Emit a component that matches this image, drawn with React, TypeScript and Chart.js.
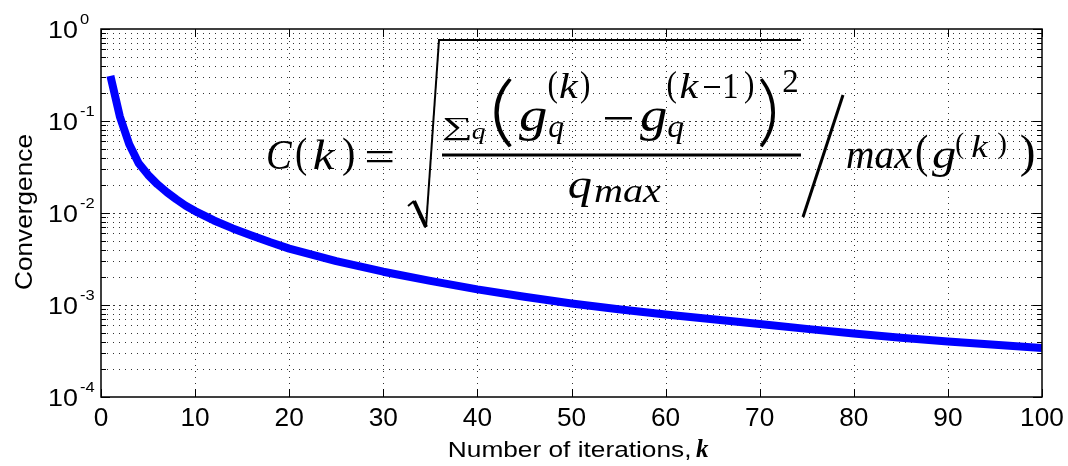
import React, { useEffect, useRef } from "react";
import { Chart, registerables } from "chart.js";

Chart.register(...registerables);

// Iteration index k and the convergence measure C(k)
const iterations = [1, 2, 3, 4, 5, 6, 7, 8, 9, 10, 12, 14, 16, 18, 20, 25, 30, 35, 40, 45, 50, 55, 60, 65, 70, 75, 80, 85, 90, 95, 100];
const convergence = [
  0.31, 0.112, 0.056, 0.0348, 0.026, 0.0205, 0.0168, 0.0141, 0.012, 0.0105,
  0.0083, 0.0068, 0.0057, 0.0048, 0.0041, 0.003, 0.0023, 0.00183, 0.00148, 0.00123,
  0.00104, 0.0009, 0.00079, 0.0007, 0.00062, 0.00055, 0.00049, 0.00044, 0.0004, 0.00037, 0.00034,
];

// Axis ticks
const xTicks = [0, 10, 20, 30, 40, 50, 60, 70, 80, 90, 100];
const yDecades = [1e-4, 1e-3, 1e-2, 1e-1, 1];
const yExponents = ["-4", "-3", "-2", "-1", "0"];
const yMantissas = [2, 3, 4, 5, 6, 7, 8, 9];

// Axis titles
const xTitle = "Number of iterations,";
const xTitleVar = "k";
const yTitle = "Convergence";

const SANS = '"Liberation Sans", Arial, sans-serif';
const SERIF = '"Liberation Serif", "DejaVu Serif", serif';
const PAREN = '300 40px Lato, "Liberation Serif", serif';

type Ctx = CanvasRenderingContext2D;

// Draw text stretched horizontally by sx around its anchor point.
function textSX(ctx: Ctx, text: string, font: string, x: number, baseline: number, sx: number, align: CanvasTextAlign) {
  ctx.save();
  ctx.font = font;
  ctx.textAlign = align;
  ctx.textBaseline = "alphabetic";
  ctx.translate(x, baseline);
  ctx.scale(sx, 1);
  ctx.fillText(text, 0, 0);
  ctx.restore();
}

// Draw text whose ink runs horizontally from x0 to x1, on the given baseline.
function textSpan(ctx: Ctx, text: string, font: string, x0: number, x1: number, baseline: number) {
  ctx.save();
  ctx.font = font;
  ctx.textAlign = "left";
  ctx.textBaseline = "alphabetic";
  const m = ctx.measureText(text);
  const w = m.actualBoundingBoxLeft + m.actualBoundingBoxRight;
  ctx.translate(x0, baseline);
  ctx.scale((x1 - x0) / w, 1);
  ctx.fillText(text, m.actualBoundingBoxLeft, 0);
  ctx.restore();
}

// Draw a glyph run so that its ink spans y0..y1 and sits centred in x0..x1,
// keeping the horizontal stretch within a moderate range of the vertical one.
function ink(ctx: Ctx, text: string, font: string, x0: number, y0: number, x1: number, y1: number, free = false) {
  ctx.save();
  ctx.font = font;
  ctx.textAlign = "left";
  ctx.textBaseline = "alphabetic";
  const m = ctx.measureText(text);
  const w = m.actualBoundingBoxLeft + m.actualBoundingBoxRight;
  const h = m.actualBoundingBoxAscent + m.actualBoundingBoxDescent;
  const sy = (y1 - y0) / h;
  let sx = (x1 - x0) / w;
  if (!free) sx = Math.max(0.85 * sy, Math.min(1.18 * sy, sx));
  const left = (x0 + x1) / 2 - (w * sx) / 2;
  ctx.translate(left, y0);
  ctx.scale(sx, sy);
  ctx.fillText(text, m.actualBoundingBoxLeft, m.actualBoundingBoxAscent);
  ctx.restore();
}

function seg(ctx: Ctx, x0: number, y0: number, x1: number, y1: number, w: number) {
  ctx.save();
  ctx.lineWidth = w;
  ctx.lineCap = "butt";
  ctx.beginPath();
  ctx.moveTo(x0, y0);
  ctx.lineTo(x1, y1);
  ctx.stroke();
  ctx.restore();
}

// C(k) = sqrt( sum_q (g_q^(k) - g_q^(k-1))^2 / q_max ) / max(g^(k))
function drawFormula(ctx: Ctx) {
  const it = `italic 40px ${SERIF}`;
  const up = `40px ${SERIF}`;
  ctx.save();
  ctx.fillStyle = "#000";
  ctx.strokeStyle = "#000";

  ink(ctx, "C", it, 268, 141, 293, 169);
  ink(ctx, "(", up, 296, 137, 307, 176);
  ink(ctx, "k", it, 311, 140, 339, 169);
  ink(ctx, ")", up, 343, 137, 354, 176);
  ink(ctx, "=", up, 367, 150, 393, 162, true);

  // radical
  seg(ctx, 408, 206, 414, 201, 2);
  seg(ctx, 414, 201, 426, 227, 4);
  seg(ctx, 426, 227, 439, 40, 2);
  seg(ctx, 438, 40, 801, 40, 2);

  // numerator
  ink(ctx, "\u2211", `40px ${SERIF}`, 443, 118, 470, 141, true);
  ink(ctx, "q", it, 472, 127, 486, 144);
  ink(ctx, "(", PAREN, 494, 77, 512, 149, true);
  ink(ctx, "g", it, 519, 107, 546, 142);
  ink(ctx, "(", up, 549, 70, 557, 104);
  ink(ctx, "k", it, 560, 73, 579, 98);
  ink(ctx, ")", up, 581, 70, 589, 104);
  ink(ctx, "q", it, 549, 121, 564, 144);
  ctx.fillRect(605, 117, 27, 2.5);
  ink(ctx, "g", it, 640, 107, 666, 142);
  ink(ctx, "(", up, 668, 70, 676, 104);
  ink(ctx, "k", it, 680, 73, 700, 98);
  ctx.fillRect(704, 86, 16, 2);
  ink(ctx, "1", up, 725, 75, 737, 98);
  ink(ctx, ")", up, 745, 70, 753, 104);
  ink(ctx, "q", it, 668, 121, 684, 144);
  ink(ctx, ")", PAREN, 759, 77, 777, 149, true);
  ink(ctx, "2", up, 783, 70, 797, 92);

  // fraction bar
  ctx.fillRect(442, 153.5, 359, 3);

  // denominator
  ink(ctx, "q", it, 569, 177, 592, 207);
  ink(ctx, "max", it, 594, 185, 662, 202);

  // division slash
  seg(ctx, 843, 95, 803, 217, 3);

  ink(ctx, "max", it, 847, 147, 912, 168);
  ink(ctx, "(", up, 916, 135, 928, 177);
  ink(ctx, "g", it, 932, 147, 955, 177);
  ink(ctx, "(", up, 956, 133, 964, 160);
  ink(ctx, "k", it, 968, 135, 993, 157);
  ink(ctx, ")", up, 998, 133, 1006, 160);
  ink(ctx, ")", up, 1021, 135, 1034, 177);
  ctx.restore();
}

const axesPlugin = {
  id: "matlabAxes",
  beforeDatasetsDraw(chart: any) {
    const { ctx, chartArea: a, scales } = chart;
    const x = scales.x;
    const y = scales.y;
    ctx.save();
    ctx.strokeStyle = "rgba(0,0,0,0.8)";
    ctx.lineWidth = 1;

    // vertical dotted grid
    ctx.setLineDash([1, 5]);
    for (const v of xTicks) {
      if (v === x.min || v === x.max) continue;
      const px = Math.round(x.getPixelForValue(v)) + 0.5;
      ctx.beginPath();
      ctx.moveTo(px, a.top);
      ctx.lineTo(px, a.bottom);
      ctx.stroke();
    }
    // horizontal minor grid
    for (let i = 0; i < yDecades.length - 1; i++) {
      for (const m of yMantissas) {
        const py = Math.round(y.getPixelForValue(yDecades[i] * m)) + 0.5;
        ctx.beginPath();
        ctx.moveTo(a.left, py);
        ctx.lineTo(a.right, py);
        ctx.stroke();
      }
    }
    // horizontal major grid
    ctx.setLineDash([2, 4]);
    for (let i = 1; i < yDecades.length - 1; i++) {
      const py = Math.round(y.getPixelForValue(yDecades[i])) + 0.5;
      ctx.beginPath();
      ctx.moveTo(a.left, py);
      ctx.lineTo(a.right, py);
      ctx.stroke();
    }
    ctx.restore();
  },
  afterDatasetsDraw(chart: any) {
    const { ctx, chartArea: a, scales } = chart;
    const x = scales.x;
    const y = scales.y;
    ctx.save();
    ctx.strokeStyle = "#000";
    ctx.lineWidth = 1;
    ctx.setLineDash([]);
    ctx.beginPath();
    // inward x ticks, top and bottom
    for (const v of xTicks) {
      const px = Math.round(x.getPixelForValue(v)) + 0.5;
      ctx.moveTo(px, a.bottom);
      ctx.lineTo(px, a.bottom - 8);
      ctx.moveTo(px, a.top);
      ctx.lineTo(px, a.top + 8);
    }
    // inward y ticks, left and right
    for (let i = 0; i < yDecades.length; i++) {
      const py = Math.round(y.getPixelForValue(yDecades[i])) + 0.5;
      ctx.moveTo(a.left, py);
      ctx.lineTo(a.left + 9, py);
      ctx.moveTo(a.right, py);
      ctx.lineTo(a.right - 9, py);
      if (i === yDecades.length - 1) continue;
      for (const m of yMantissas) {
        const q = Math.round(y.getPixelForValue(yDecades[i] * m)) + 0.5;
        ctx.moveTo(a.left, q);
        ctx.lineTo(a.left + 5, q);
        ctx.moveTo(a.right, q);
        ctx.lineTo(a.right - 5, q);
      }
    }
    ctx.stroke();
    // axes box
    ctx.lineWidth = 1.5;
    ctx.strokeRect(a.left, a.top, a.right - a.left, a.bottom - a.top);
    ctx.restore();
  },
  afterDraw(chart: any) {
    const { ctx, scales } = chart;
    const x = scales.x;
    const y = scales.y;
    ctx.save();
    ctx.fillStyle = "#000";

    // y tick labels 10^n
    for (let i = 0; i < yDecades.length; i++) {
      const py = y.getPixelForValue(yDecades[i]);
      textSX(ctx, "10", `24px ${SANS}`, 48, py + 8.5, 1.12, "left");
      textSX(ctx, yExponents[i], `15px ${SANS}`, 80, py - 5, 1.1, "left");
    }
    // x tick labels
    for (const v of xTicks) {
      const px = x.getPixelForValue(v);
      textSX(ctx, String(v), `25px ${SANS}`, px, 426, 1.05, "center");
    }
    // x title
    textSpan(ctx, xTitle, `22.5px ${SANS}`, 449, 690, 457);
    textSX(ctx, xTitleVar, `bold italic 25px ${SERIF}`, 696, 457, 1.0, "left");

    // y title
    ctx.save();
    ctx.translate(32, 212);
    ctx.rotate(-Math.PI / 2);
    ctx.scale(1.14, 1);
    ctx.font = `23px ${SANS}`;
    ctx.textAlign = "center";
    ctx.textBaseline = "alphabetic";
    ctx.fillText(yTitle, 0, 0);
    ctx.restore();

    drawFormula(ctx);
    ctx.restore();
  },
};

export default function App() {
  const canvasRef = useRef<HTMLCanvasElement | null>(null);

  useEffect(() => {
    const canvas = canvasRef.current;
    if (!canvas) return;
    const chart = new Chart(canvas, {
      type: "line",
      data: {
        datasets: [
          {
            data: iterations.map((k, i) => ({ x: k, y: convergence[i] })),
            borderColor: "#0000ff",
            borderWidth: 8,
            pointRadius: 0,
            tension: 0,
            borderCapStyle: "butt",
            borderJoinStyle: "round",
            fill: false,
          },
        ],
      },
      options: {
        responsive: false,
        maintainAspectRatio: false,
        animation: false,
        events: [],
        layout: { padding: { left: 101, top: 29, right: 26, bottom: 69 } },
        plugins: { legend: { display: false }, tooltip: { enabled: false } },
        scales: {
          x: { type: "linear", min: 0, max: 100, display: false },
          y: { type: "logarithmic", min: 1e-4, max: 1, display: false },
        },
      },
      plugins: [axesPlugin],
    });
    return () => chart.destroy();
  }, []);

  return (
    <div style={{ position: "fixed", left: 0, top: 0, width: 1068, height: 466, background: "#fff" }}>
      <canvas ref={canvasRef} width={1068} height={466} style={{ display: "block" }} />
    </div>
  );
}
